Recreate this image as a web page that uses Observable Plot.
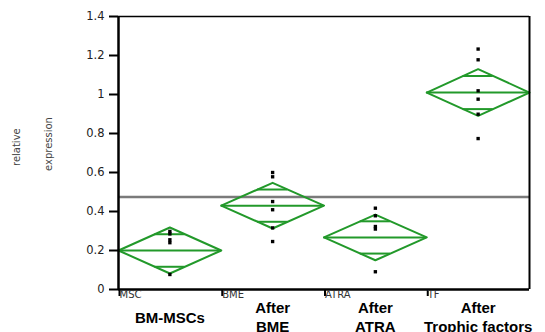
<!DOCTYPE html>
<html>
<head>
<meta charset="utf-8">
<script src="https://cdn.jsdelivr.net/npm/d3@7"></script>
<script src="https://cdn.jsdelivr.net/npm/@observablehq/plot@0.6"></script>
<style>
  html, body { margin: 0; padding: 0; background: #fff; }
  #chart svg { display: block; }
</style>
</head>
<body>
<div id="chart"></div>
<script>
// ---- data ----
const groupLabels = ["BM-MSCs", "After\nBME", "After\nATRA", "After\nTrophic factors"];
const shortLabels = ["MSC", "BME", "ATRA", "TF"];
const means = [0.20, 0.43, 0.267, 1.01];
const ciHalf = [0.118, 0.117, 0.117, 0.12];
const valuesMSC = [0.298, 0.285, 0.255, 0.24, 0.077];
const valuesBME = [0.60, 0.578, 0.451, 0.409, 0.316, 0.246];
const valuesATRA = [0.417, 0.378, 0.323, 0.31, 0.091];
const valuesTF = [1.233, 1.178, 1.019, 0.976, 0.899, 0.774];
const referenceLevel = 0.475;
const yTicks = [0, 0.2, 0.4, 0.6, 0.8, 1, 1.2, 1.4];
const yTickLabels = ["0", "0.2", "0.4", "0.6", "0.8", "1", "1.2", "1.4"];

// ---- derived tables ----
const allValues = [valuesMSC, valuesBME, valuesATRA, valuesTF];
const dots = allValues.flatMap((vals, i) => vals.map(v => ({x: i + 0.5, y: v})));
const diamonds = means.flatMap((m, i) => [
  {g: i, x: i, y: m},
  {g: i, x: i + 0.5, y: m + ciHalf[i]},
  {g: i, x: i + 1, y: m},
  {g: i, x: i + 0.5, y: m - ciHalf[i]},
  {g: i, x: i, y: m}
]);
const meanLines = means.map((m, i) => ({x1: i, x2: i + 1, y: m}));
const k = 1 / Math.SQRT2;
const halfW = 0.5 * (1 - k);
const overlapLines = means.flatMap((m, i) => [
  {x1: i + 0.5 - halfW, x2: i + 0.5 + halfW, y: m + ciHalf[i] * k},
  {x1: i + 0.5 - halfW, x2: i + 0.5 + halfW, y: m - ciHalf[i] * k}
]);
const green = "#22992a";

const chart = Plot.plot({
  width: 545,
  height: 332,
  marginLeft: 118,
  marginRight: 16,
  marginTop: 16,
  marginBottom: 43,
  style: {fontFamily: "DejaVu Sans, sans-serif", background: "#fff"},
  x: {domain: [0, 4], axis: null},
  y: {domain: [0, 1.4], axis: null},
  marks: [
    Plot.ruleY([referenceLevel], {stroke: "#7a7a7a", strokeWidth: 2.5}),
    Plot.line(diamonds, {x: "x", y: "y", z: "g", stroke: green, strokeWidth: 2}),
    Plot.ruleY(meanLines, {x1: "x1", x2: "x2", y: "y", stroke: green, strokeWidth: 2}),
    Plot.ruleY(overlapLines, {x1: "x1", x2: "x2", y: "y", stroke: green, strokeWidth: 2}),
    Plot.dot(dots, {x: "x", y: "y", symbol: "square", r: 1.9, fill: "#000", stroke: null}),
    // frame
    Plot.ruleY([1.4], {stroke: "#000", strokeWidth: 1.5}),
    Plot.ruleX([4], {stroke: "#000", strokeWidth: 2}),
    Plot.ruleY([0], {stroke: "#000", strokeWidth: 2.5}),
    Plot.ruleX([0], {stroke: "#000", strokeWidth: 2.5}),
    // y axis
    Plot.axisY(yTicks, {
      tickSize: 9, tickPadding: 5, strokeWidth: 2, fontSize: 11.5, fill: "#222",
      tickFormat: (d, i) => yTickLabels[i], label: null
    }),
    // small category labels
    Plot.axisX([0, 1, 2, 3], {
      tickSize: 7, tickPadding: -6, strokeWidth: 2, fontSize: 10, fill: "#333",
      textAnchor: "start", dx: 1,
      tickFormat: (d, i) => shortLabels[i], label: null
    }),
    // group labels
    Plot.text(groupLabels, {
      x: (d, i) => i + 0.5, y: 0, dy: 27, lineAnchor: "middle", lineHeight: 1.3,
      fontSize: 15, fontWeight: "bold", fill: "#000",
      fontFamily: "Liberation Sans, Arial, sans-serif"
    }),
    // y label
    Plot.text(["relative"], {frameAnchor: "left", dx: -102, dy: 13, rotate: -90, fontSize: 10, fill: "#444"}),
    Plot.text(["expression"], {frameAnchor: "left", dx: -70, dy: 18, rotate: -90, fontSize: 10, fill: "#444"})
  ]
});
document.getElementById("chart").appendChild(chart);
</script>
</body>
</html>
